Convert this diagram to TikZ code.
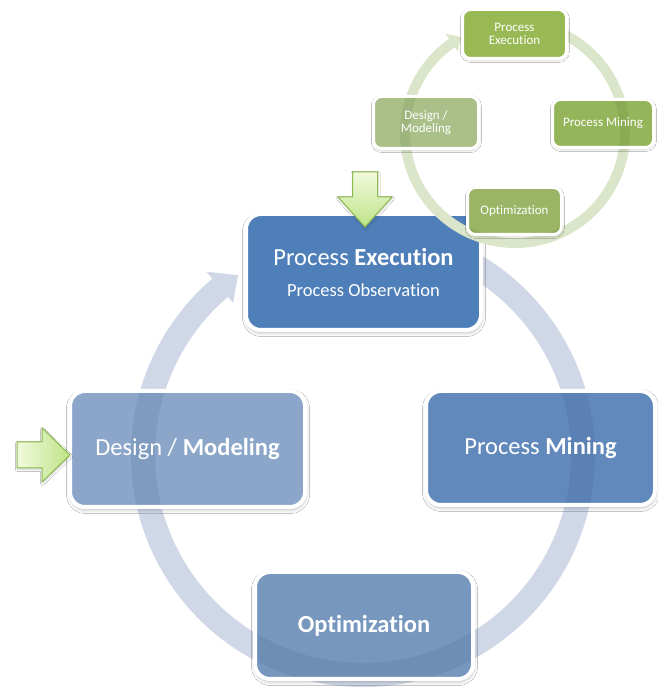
\documentclass[tikz,border=0pt]{standalone}
\usepackage{fontspec}
\setmainfont{Carlito}[Ligatures=NoCommon]
\usetikzlibrary{calc,shadows.blur}

\definecolor{ringblue}{RGB}{208,216,232}
\definecolor{ringgreen}{RGB}{218,229,201}
\definecolor{execblue}{RGB}{79,127,185}
\definecolor{minblue}{RGB}{98,137,188}
\definecolor{optblue}{RGB}{119,151,191}
\definecolor{desblue}{RGB}{139,166,200}
\definecolor{bandshade}{RGB}{31,63,112}
\definecolor{execgreen}{RGB}{152,185,84}
\definecolor{mingreen}{RGB}{149,181,91}
\definecolor{optgreen}{RGB}{154,181,101}
\definecolor{desgreen}{RGB}{170,192,136}
\definecolor{bandgreen}{RGB}{60,80,30}
\definecolor{arrowlight}{RGB}{241,250,220}
\definecolor{arrowdark}{RGB}{190,227,135}
\definecolor{arrowedge}{RGB}{140,186,78}

\tikzset{
  bigbox/.style={draw=white, line width=4pt, rounded corners=15pt, inner sep=0pt,
    text=white, align=center, font=\fontsize{24.5}{30}\selectfont,
    blur shadow={shadow xshift=0.5pt, shadow yshift=-2.5pt,
      shadow blur radius=4pt, shadow opacity=30}},
  smallbox/.style={draw=white, line width=3pt, rounded corners=8pt, inner sep=0pt,
    text=white, align=center, font=\fontsize{13}{13.5}\selectfont,
    blur shadow={shadow xshift=0.3pt, shadow yshift=-1.5pt,
      shadow blur radius=2.5pt, shadow opacity=25}},
  bigband/.style={path picture={\draw[line width=24pt, bandshade, opacity=0.1]
      (bigc) circle[radius=220];}},
  smallband/.style={path picture={\draw[line width=10pt, bandgreen, opacity=0.1]
      (smallc) circle[radius=110];}},
  blockarrow/.style={draw=arrowedge, line width=1pt, line join=miter,
    blur shadow={shadow xshift=0.5pt, shadow yshift=-1.5pt,
      shadow blur radius=2pt, shadow opacity=20}},
}

\begin{document}
\begin{tikzpicture}[x=1pt, y=1pt]
  \fill[white] (0,0) rectangle (658,691);
  \useasboundingbox (0,0) rectangle (658,691);

  \coordinate (bigc) at (363,236);
  \coordinate (smallc) at (515,558);

  % large cycle: thick circular arrow
  \draw[ringblue, line width=24pt] ($(bigc)+(80:220)$)
    arc[start angle=80, end angle=-230, radius=220];
  \fill[ringblue] ($(bigc)+(130.5:200)$) -- ($(bigc)+(130.5:241)$)
    -- ($(bigc)+(124.8:219)$) -- cycle;

  % large cycle: boxes
  \node[bigbox, fill=execblue, minimum width=235pt, minimum height=116pt] (exec)
    at (363.5,419) {Process \textbf{Execution}\\[1pt]
    {\fontsize{18.5}{22}\selectfont Process Observation}};
  \node[bigbox, bigband, fill=minblue, minimum width=229pt, minimum height=114pt] (mining)
    at (540.5,243) {Process \textbf{Mining}};
  \node[bigbox, bigband, fill=optblue, minimum width=218pt, minimum height=107pt] (optim)
    at (364,65.5) {\textbf{Optimization}};
  \node[bigbox, bigband, fill=desblue, minimum width=235pt, minimum height=116pt] (design)
    at (187.5,242) {Design / \textbf{Modeling}};

  % entry arrows
  \path[blockarrow, top color=arrowlight, bottom color=arrowdark]
    (352.5,519) -- (377.5,519) -- (377.5,494) -- (392,494) -- (365,464)
    -- (338,494) -- (352.5,494) -- cycle;
  \path[blockarrow, left color=arrowlight, right color=arrowdark]
    (17,249) -- (42,249) -- (42,263) -- (70,236) -- (42,209)
    -- (42,223) -- (17,223) -- cycle;

  % small cycle: thin circular arrow
  \draw[ringgreen, line width=10pt] ($(smallc)+(80:110)$)
    arc[start angle=80, end angle=-235.5, radius=110];
  \fill[ringgreen] ($(smallc)+(125:100)$) -- ($(smallc)+(125:121)$)
    -- ($(smallc)+(119.3:110)$) -- cycle;

  % small cycle: boxes
  \node[smallbox, fill=execgreen, minimum width=104pt, minimum height=49pt] (sexec)
    at (514.5,657) {Process\\Execution};
  \node[smallbox, smallband, fill=mingreen, minimum width=101pt, minimum height=48pt] (smining)
    at (603,567.5) {Process Mining};
  \node[smallbox, smallband, fill=optgreen, minimum width=94pt, minimum height=47pt] (soptim)
    at (514.5,480) {Optimization};
  \node[smallbox, smallband, fill=desgreen, minimum width=105pt, minimum height=52pt] (sdesign)
    at (426,568.5) {Design /\\Modeling};
\end{tikzpicture}
\end{document}
